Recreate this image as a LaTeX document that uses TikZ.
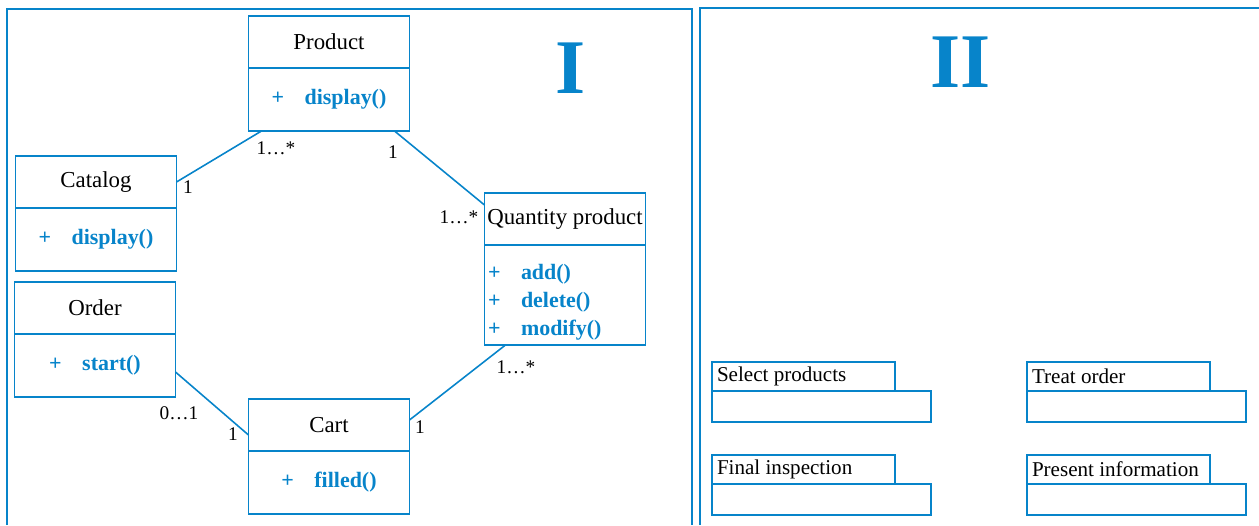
\documentclass[tikz,border=0pt]{standalone}
\usepackage{fontspec}
\setmainfont{Liberation Serif}
\usetikzlibrary{positioning, calc}
\definecolor{cblue}{HTML}{0784CA}
\tikzset{
  every picture/.style={line width=1.1pt},
  panel/.style={draw=cblue, line width=1.3pt},
  clshead/.style={draw=cblue, outer sep=0pt, minimum width=3.22cm, minimum height=1.04cm, inner sep=1pt, font=\fontsize{13}{15}\selectfont},
  clsbody/.style={draw=cblue, outer sep=0pt, minimum width=3.22cm, minimum height=#1, inner sep=2pt, text=cblue, font=\fontsize{12.5}{15.9}\selectfont\bfseries},
  clsbody/.default=1.26cm,
  assoc/.style={draw=cblue, line width=0.9pt},
  mult/.style={font=\fontsize{11}{13}\selectfont, inner sep=1pt},
  roman/.style={text=cblue, font=\fontsize{44}{48}\selectfont\bfseries},
  acttab/.style={draw=cblue, outer sep=0pt, anchor=north west, minimum width=3.66cm, minimum height=0.58cm, inner xsep=0.1cm, inner ysep=0pt, font=\fontsize{12}{14}\selectfont},
  actbox/.style={draw=cblue, outer sep=0pt, anchor=north west, minimum width=4.38cm, minimum height=0.62cm, inner sep=0pt},
}
\newcommand{\meth}[1]{\makebox[0.66cm][l]{+}#1()}

\begin{document}
\begin{tikzpicture}[x=0.02cm, y=-0.02cm]
  \useasboundingbox (0,0) rectangle (1259,525);
  % the two panels
  \draw[panel] (7,525) -- (7,9) -- (692,9) -- (692,525);
  \draw[panel] (700,525) -- (700,8) -- (1259,8);
  \node[roman] (one) at (571,68) {I};
  \node[roman] (two) at (961,62) {II};
  % left: class diagram
  \node[clshead] (phead) at (329,42) {Product};
  \node[clsbody, below=0pt of phead] (pbody) {\meth{display}};
  \node[clshead] (chead) at (96,182) {Catalog};
  \node[clsbody, below=0pt of chead] (cbody) {\meth{display}};
  \node[clshead] (ohead) at (95,308) {Order};
  \node[clsbody, below=0pt of ohead] (obody) {\meth{start}};
  \node[clshead] (cahead) at (329,425) {Cart};
  \node[clsbody, below=0pt of cahead] (cabody) {\meth{filled}};
  \node[clshead] (qhead) at (565,219) {Quantity product};
  \node[clsbody=2cm, below=0pt of qhead, align=left, text width=3.08cm] (qbody)
    {\rule{0pt}{17pt}\meth{add}\\\meth{delete}\\\meth{modify}};
  \draw[assoc] (chead.east) -- ([xshift=0.26cm]pbody.south west);
  \draw[assoc] ([xshift=-0.3cm]pbody.south east) -- ([yshift=-0.24cm]qhead.north west);
  \draw[assoc] ([yshift=-0.13cm]obody.east) -- ([yshift=-0.2cm]cahead.west);
  \draw[assoc] ([yshift=0.1cm]cahead.east) -- ([xshift=0.42cm]qbody.south west);
  \node[mult] (m1) at (188,187) {1};
  \node[mult] (m2) at (276,148) {1…*};
  \node[mult] (m3) at (393,152) {1};
  \node[mult] (m4) at (459,217) {1…*};
  \node[mult] (m5) at (179,413) {0…1};
  \node[mult] (m6) at (233,434) {1};
  \node[mult] (m7) at (420,427) {1};
  \node[mult] (m8) at (516,367) {1…*};
  % right: activity boxes
  \foreach \n/\x/\y/\t in {sel/712/362/Select products, treat/1027/362/Treat order,
                           fin/712/455/Final inspection, pres/1027/455/Present information} {
    \node[acttab] (\n) at (\x,\y) {\makebox[3.46cm][l]{\t}};
    \node[actbox] (\n-box) at (\n.south west) {};
  }
\end{tikzpicture}
\end{document}
